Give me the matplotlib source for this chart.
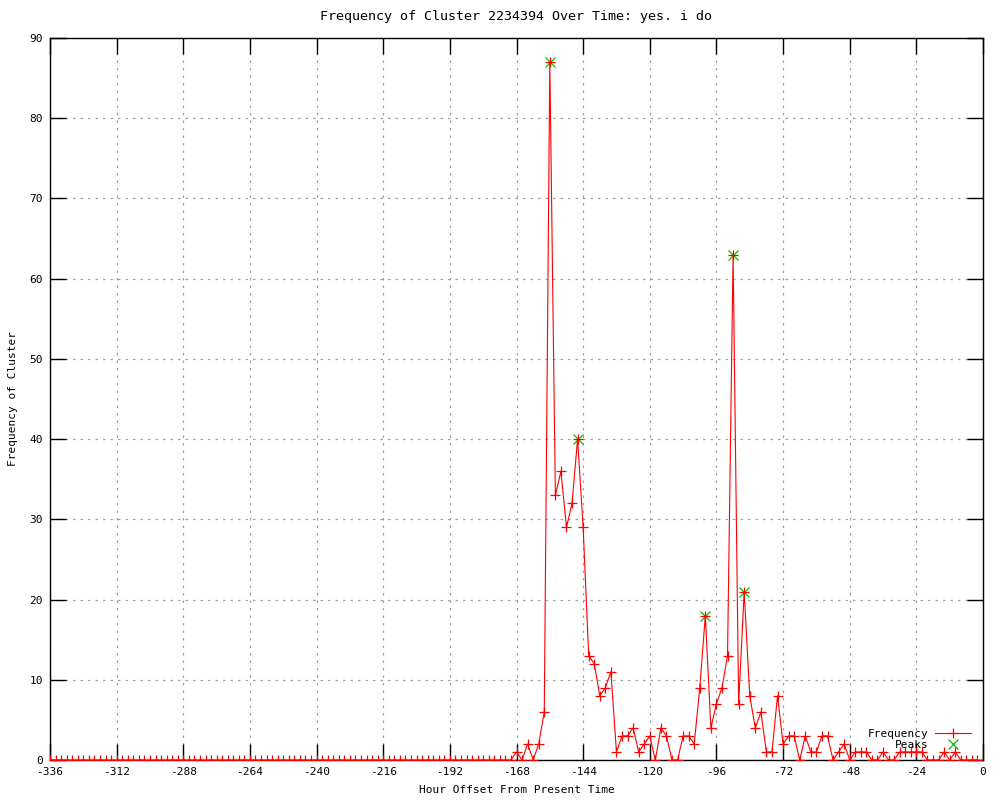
import matplotlib.pyplot as plt
import numpy as np

from matplotlib import rcParams
rcParams['font.family'] = 'DejaVu Sans Mono'
rcParams['font.size'] = 8
rcParams['axes.unicode_minus'] = False

# hourly offsets, one sample every 2 hours
hours = np.arange(-336, 0, 2)

freq = [
    0, 0, 0, 0, 0, 0, 0, 0, 0, 0, 0, 0, 0, 0, 0, 0, 0, 0, 0, 0, 0,
    0, 0, 0, 0, 0, 0, 0, 0, 0, 0, 0, 0, 0, 0, 0, 0, 0, 0, 0, 0, 0,
    0, 0, 0, 0, 0, 0, 0, 0, 0, 0, 0, 0, 0, 0, 0, 0, 0, 0, 0, 0, 0,
    0, 0, 0, 0, 0, 0, 0, 0, 0, 0, 0, 0, 0, 0, 0, 0, 0, 0, 0, 0, 0,
    1, 0, 2, 0, 2, 6, 87, 33, 36, 29, 32, 40, 29, 13, 12, 8, 9, 11,
    1, 3, 3, 4, 1, 2, 3, 0, 4, 3, 0, 0, 3, 3, 2, 9, 18, 4, 7, 9,
    13, 63, 7, 21, 8, 4, 6, 1, 1, 8, 2, 3, 3, 0, 3, 1, 1, 3, 3, 0,
    1, 2, 0, 1, 1, 1, 0, 0, 1, 0, 0, 1, 1, 1, 1, 1, 0, 0, 0, 1,
    0, 1, 0, 0, 0, 0,
]

peak_hours = [-156, -146, -100, -90, -86]
peak_values = [87, 40, 18, 63, 21]

fig = plt.figure(figsize=(10, 8), dpi=100)
ax = fig.add_axes([0.05, 0.05, 0.933, 0.9025])

ax.plot(peak_hours, peak_values, 'x', color='#00c000', markersize=6.5,
        markeredgewidth=0.9, label='Peaks', zorder=2)
ax.plot(hours, freq, '-+', color='red', linewidth=0.8, markersize=7,
        markeredgewidth=0.9, label='Frequency', zorder=3)

ax.set_xlim(-336, 0)
ax.set_ylim(0, 90)
ax.set_xticks(np.arange(-336, 1, 24))
ax.set_yticks(np.arange(0, 91, 10))
ax.tick_params(direction='in', length=11.5, width=1, top=True, right=True,
               pad=5, colors='black')
ax.grid(True, color='#a0a0a0', linestyle=(0, (2, 4)), linewidth=0.9)
ax.set_axisbelow(True)
for s in ax.spines.values():
    s.set_linewidth(1)
    s.set_color('black')

ax.set_title('Frequency of Cluster 2234394 Over Time: yes. i do', pad=13)
ax.set_xlabel('Hour Offset From Present Time', labelpad=6)
ax.set_ylabel('Frequency of Cluster', labelpad=8)

h, l = ax.get_legend_handles_labels()
ax.legend(h[::-1], l[::-1], loc='lower right', bbox_to_anchor=(0.995, 0.003),
          frameon=False, markerfirst=False, handlelength=3.2,
          labelspacing=0.1, borderpad=0.2, handletextpad=0.6)

plt.savefig('out.png', dpi=100)
